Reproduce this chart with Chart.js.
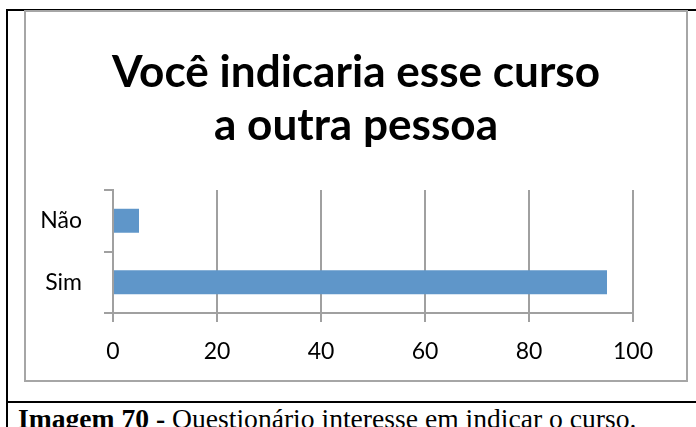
<!DOCTYPE html>
<html>
<head>
<meta charset="utf-8">
<script src="https://cdn.jsdelivr.net/npm/chart.js@4.4.0/dist/chart.umd.min.js"></script>
<style>
  body { margin: 0; background: #fff; width: 696px; height: 427px; overflow: hidden; position: relative; }
  #frame { position: absolute; left: 6px; top: 9px; width: 700px; height: 440px; border-left: 2px solid #000; border-top: 2px solid #000; }
  #rule { position: absolute; left: 6px; top: 401px; width: 700px; height: 2px; background: #000; }
  #box { position: absolute; left: 24px; top: 10px; width: 660px; height: 368px; border: 2px solid #a6a6a6; }
  #caption { position: absolute; left: 18px; top: 405px; font-family: "Liberation Serif", "Times New Roman", serif; font-size: 27.6px; line-height: 27px; white-space: nowrap; color: #000; }
</style>
</head>
<body>
<div id="frame"></div>
<div id="box"><canvas id="myChart" width="660" height="368"></canvas></div>
<div id="rule"></div>
<div id="caption"><b>Imagem 70 -</b> Questionário interesse em indicar o curso.</div>
<script>
const titleLines = ['Você indicaria esse curso', 'a outra pessoa'];
const categories = ['Sim', 'Não'];
const values = [95, 5];
const xMin = 0;
const xMax = 100;
const xStep = 20;

const FONT = 'Lato, "Open Sans", sans-serif';
const gridGray = '#a0a0a0';

// size the title so the first line is about 488px wide
const probe = document.createElement('canvas').getContext('2d');
probe.font = 'bold 43px ' + FONT;
const titleSize = Math.round(43 * 488 / probe.measureText(titleLines[0]).width * 10) / 10;

new Chart(document.getElementById('myChart').getContext('2d'), {
    type: 'bar',
    data: {
        labels: categories,
        datasets: [{
            data: values,
            backgroundColor: '#5f96c9',
            borderWidth: 0,
            barPercentage: 0.39,
            categoryPercentage: 1.0
        }]
    },
    options: {
        indexAxis: 'y',
        responsive: false,
        animation: false,
        devicePixelRatio: 1,
        layout: { padding: 0 },
        plugins: {
            legend: { display: false },
            tooltip: { enabled: false },
            title: {
                display: true,
                text: titleLines,
                color: '#000',
                font: { family: FONT, size: titleSize, weight: 'bold', lineHeight: 53 / titleSize },
                padding: { top: 34.5, bottom: 37.5 }
            }
        },
        scales: {
            x: {
                min: xMin,
                max: xMax,
                ticks: { stepSize: xStep, color: '#000', padding: 16, font: { family: FONT, size: 23 } },
                grid: { color: gridGray, lineWidth: 2, tickLength: 9, drawTicks: true },
                border: { display: true, color: gridGray, width: 2 },
                afterFit: scale => { scale.height = 67; }
            },
            y: {
                reverse: true,
                ticks: { color: '#000', padding: 22, font: { family: FONT, size: 23 } },
                grid: { color: gridGray, lineWidth: 2, tickLength: 9, drawOnChartArea: false, drawTicks: true },
                border: { display: true, color: gridGray, width: 2 },
                afterFit: scale => { scale.width = 87; }
            },
            // empty right-hand strip so the title stays centred on the whole box
            spacer: {
                type: 'linear',
                axis: 'y',
                position: 'right',
                ticks: { display: false },
                grid: { display: false },
                border: { display: false },
                afterFit: scale => { scale.width = 53; }
            }
        }
    }
});
</script>
</body>
</html>
